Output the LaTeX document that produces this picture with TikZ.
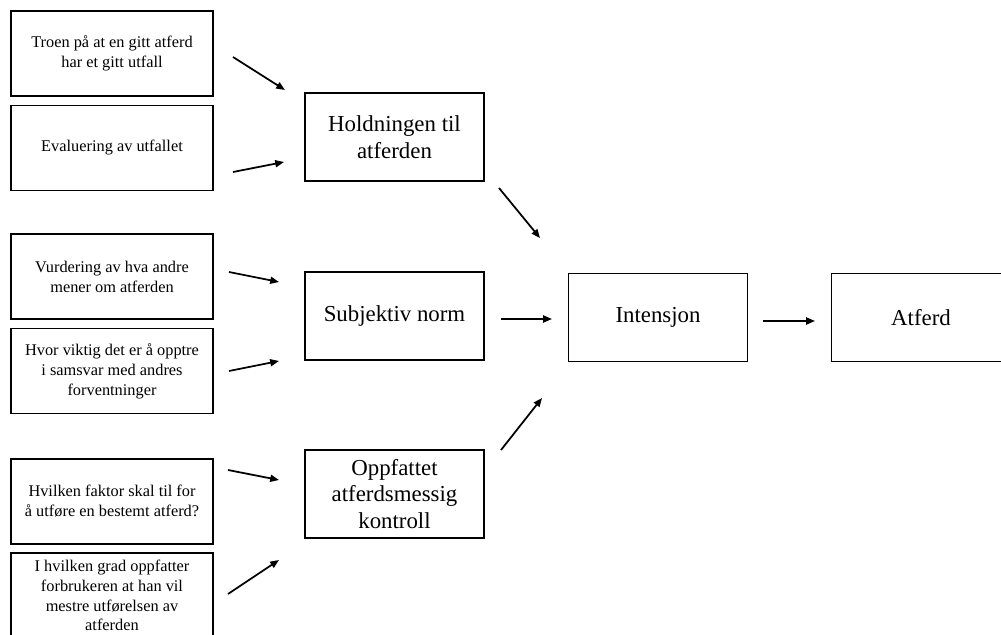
\documentclass[tikz,border=0pt]{standalone}
\usepackage{fontspec}
\setmainfont{Liberation Serif}
\usetikzlibrary{positioning,arrows.meta}

\begin{document}
\begin{tikzpicture}[
x=0.02cm,y=-0.02cm,
factor/.style={draw,line width=1.1pt,minimum width=4.04cm,minimum height=1.7cm,align=center,inner sep=1pt,font=\fontsize{9.3}{11.3}\selectfont},
construct/.style={draw,line width=1.1pt,minimum width=3.58cm,minimum height=1.76cm,align=center,inner sep=1pt,font=\fontsize{13}{15.3}\selectfont},
link/.style={->,line width=1pt},
>={Triangle[length=5pt,width=4pt]}]
\useasboundingbox (0,0) rectangle (1001,635);
\node[factor] (troen) at (112,53.5) {Troen på at en gitt atferd\\har et gitt utfall};
\node[factor] (evaluering) at (112,148) {Evaluering av utfallet};
\node[factor] (vurdering) at (112,276.5) {Vurdering av hva andre\\mener om atferden};
\node[factor] (viktig) at (112,371) {Hvor viktig det er å opptre\\i samsvar med andres\\forventninger};
\node[factor] (faktor) at (112,501.5) {Hvilken faktor skal til for\\å utføre en bestemt atferd?};
\node[factor] (grad) at (112,595.5) {I hvilken grad oppfatter\\forbrukeren at han vil\\mestre utførelsen av\\atferden};
\node[construct] (holdning) at (394.5,137) {Holdningen til\\atferden};
\node[construct] (norm) at (394.5,316) {Subjektiv norm};
\node[construct] (kontroll) at (394.5,494) {Oppfattet\\atferdsmessig\\kontroll};
\node[construct] (intensjon) at (658,317.5) {Intensjon};
\node[construct] (atferd) at (921,317.5) {Atferd};
% arrow ends
\coordinate (t1) at (233,57); \coordinate (h1) at (285,90);
\coordinate (t2) at (233,172); \coordinate (h2) at (284,162);
\coordinate (t3) at (229,272); \coordinate (h3) at (279,282);
\coordinate (t4) at (229,371); \coordinate (h4) at (279,361);
\coordinate (t5) at (228,470); \coordinate (h5) at (279,480);
\coordinate (t6) at (228,594); \coordinate (h6) at (279,560);
\coordinate (t7) at (499,188); \coordinate (h7) at (540,238);
\coordinate (t8) at (501,319); \coordinate (h8) at (552,319);
\coordinate (t9) at (501,450); \coordinate (h9) at (542,398);
\coordinate (t10) at (763,321); \coordinate (h10) at (815,321);
\foreach \i in {1,...,10}
  \draw[link] (t\i)--(h\i);
\end{tikzpicture}
\end{document}
